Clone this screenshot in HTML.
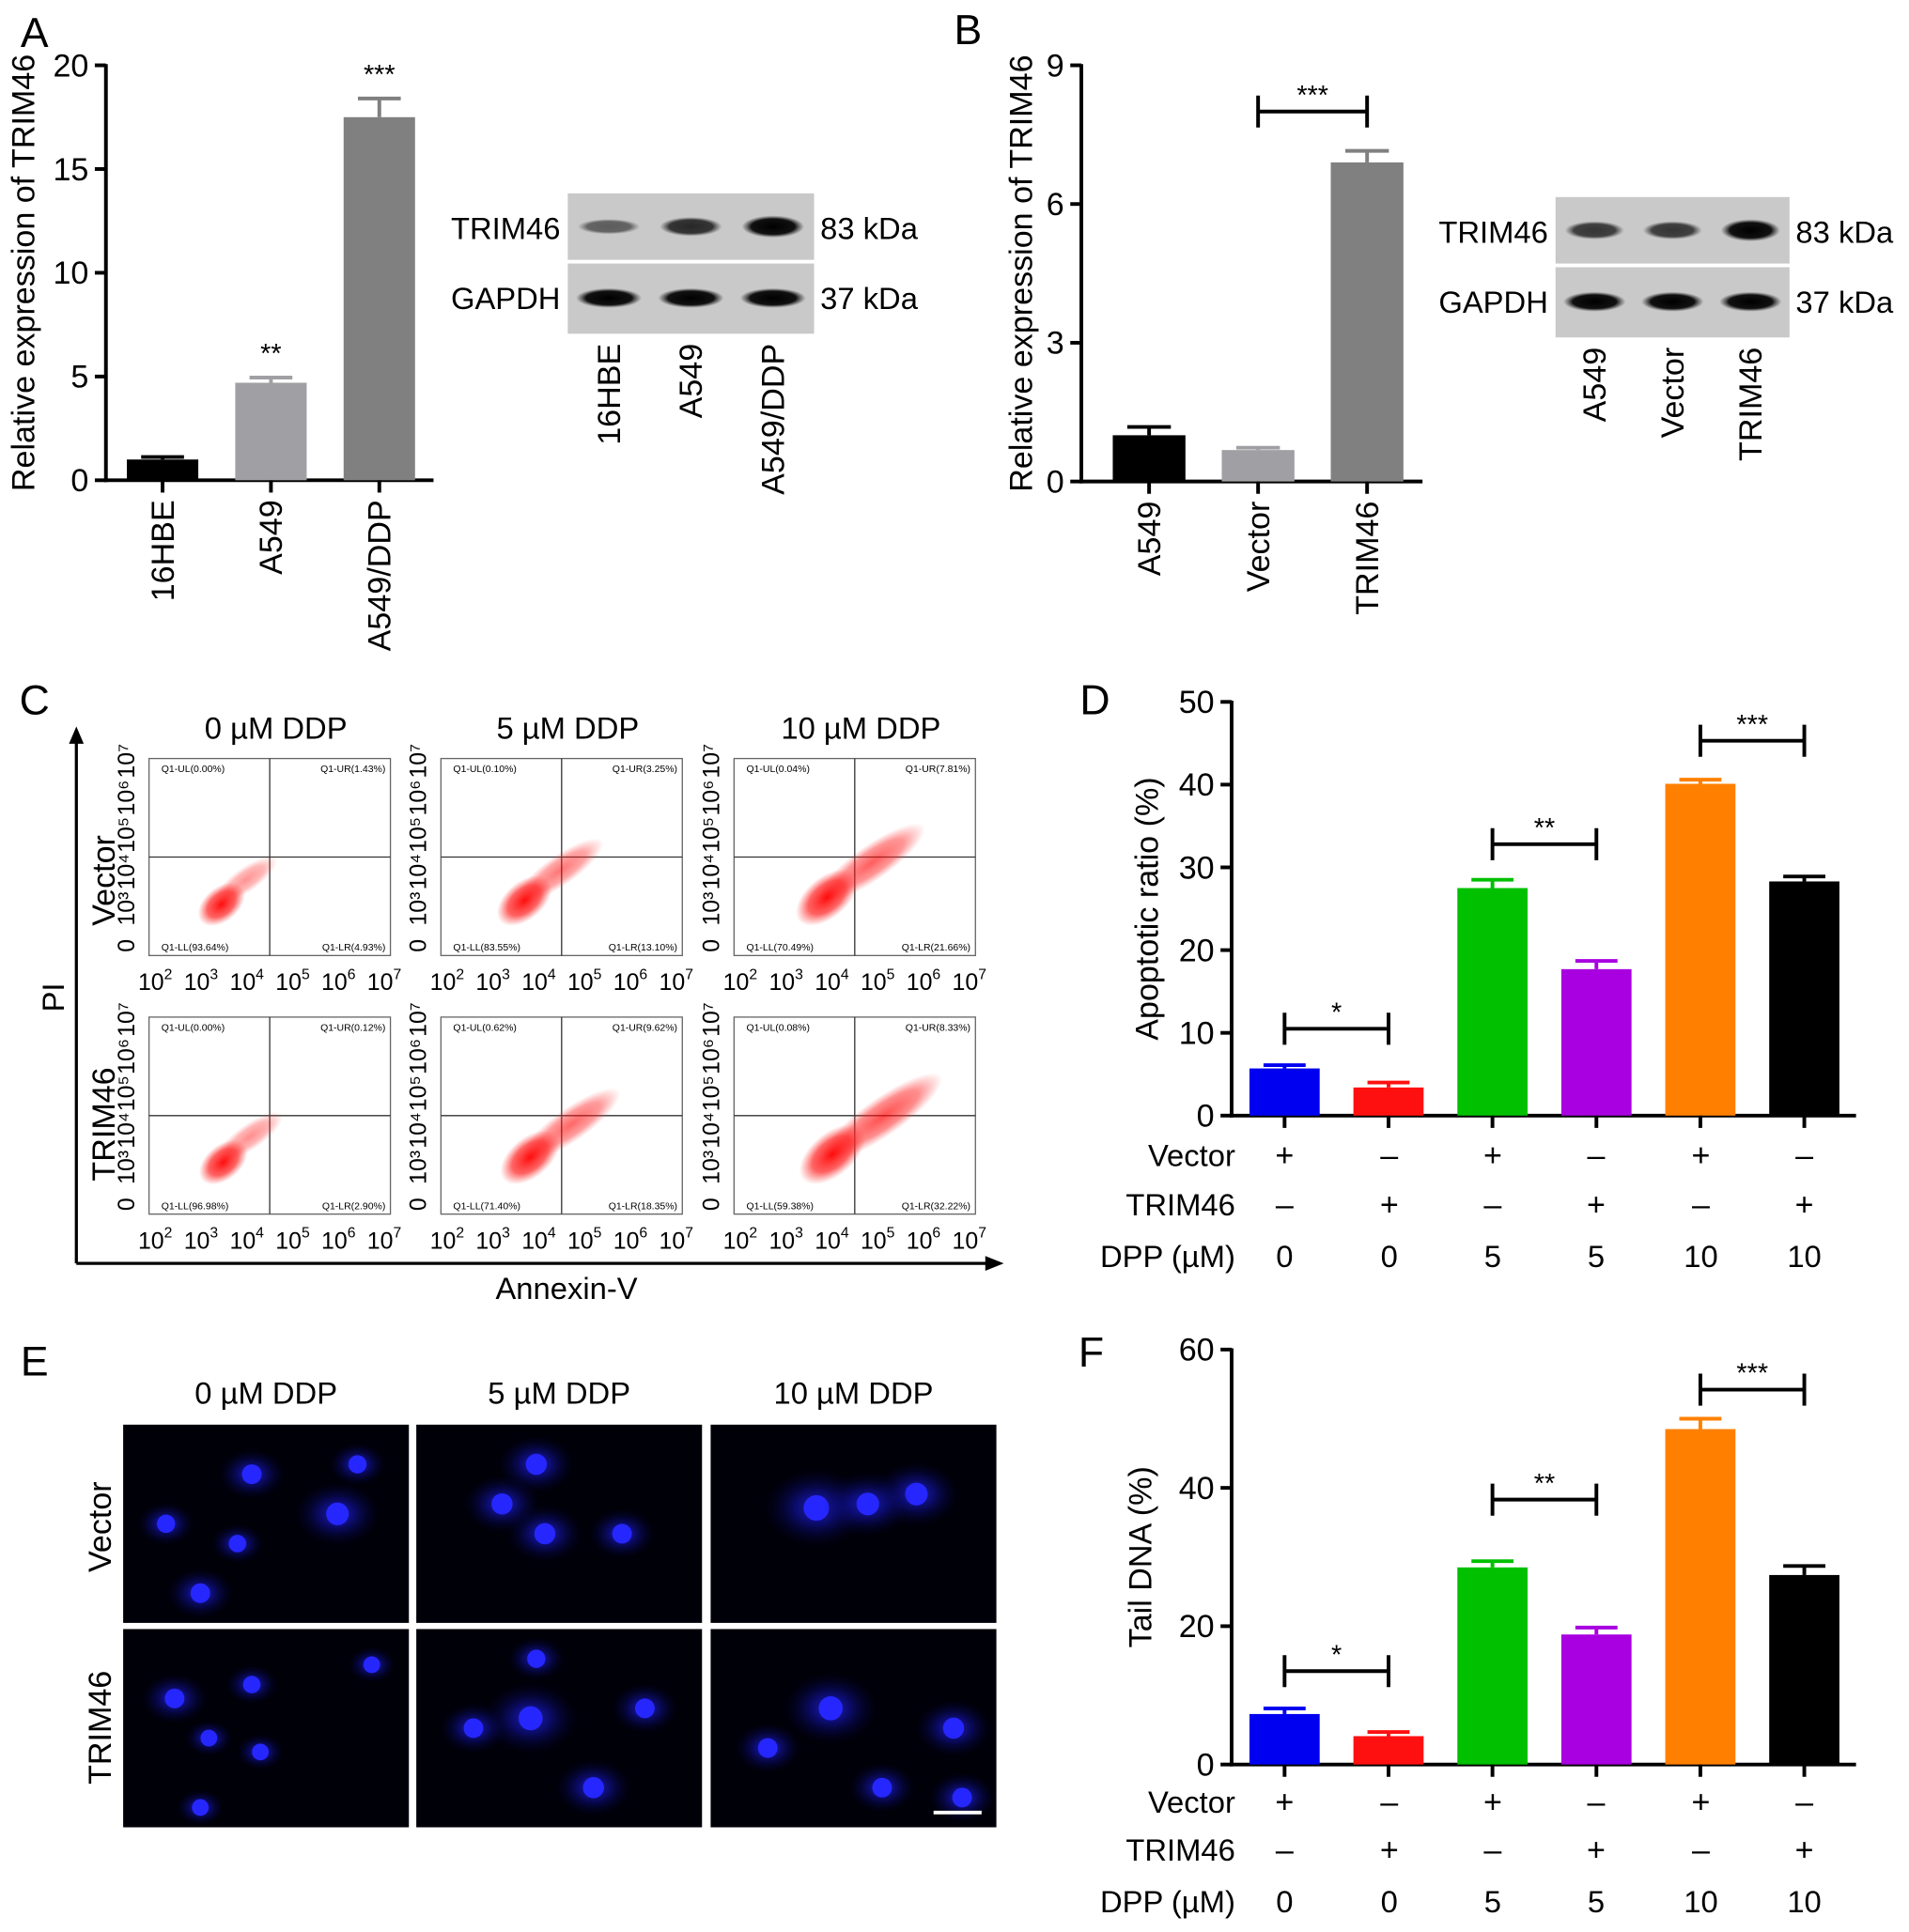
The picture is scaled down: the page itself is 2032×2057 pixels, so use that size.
<!DOCTYPE html>
<html><head><meta charset="utf-8"><style>
html,body{margin:0;padding:0;background:#fff}
svg{display:block}
text{font-family:"Liberation Sans",Arial,sans-serif;fill:#000}
</style></head><body>
<svg id="fig" width="2032" height="2057" viewBox="0 0 1550 1569" xmlns="http://www.w3.org/2000/svg">
<defs>
<radialGradient id="dot" cx="50%" cy="50%" r="50%"><stop offset="0" stop-color="#ff0000" stop-opacity="0.95"/><stop offset="0.6" stop-color="#ff2020" stop-opacity="0.7"/><stop offset="1" stop-color="#ff4040" stop-opacity="0"/></radialGradient>
<radialGradient id="nuc" cx="50%" cy="50%" r="50%"><stop offset="0" stop-color="#3a3aff"/><stop offset="0.35" stop-color="#1818d0"/><stop offset="1" stop-color="#000030" stop-opacity="0"/></radialGradient>
<radialGradient id="band" cx="50%" cy="50%" r="50%"><stop offset="0" stop-color="#000"/><stop offset="0.7" stop-color="#111"/><stop offset="1" stop-color="#333" stop-opacity="0"/></radialGradient>
</defs>
<g id="root"></g>
</svg>
<script>
// ---- Panel A data
const aCats = ["16HBE","A549","A549/DDP"];
const aVals = [1.0, 4.7, 17.5];
const aErrs = [0.12, 0.25, 0.9];
const aStars = ["", "**", "***"];
const aTicks = [0,5,10,15,20];
// ---- Panel B data
const bCats = ["A549","Vector","TRIM46"];
const bVals = [1.0, 0.68, 6.9];
const bErrs = [0.18, 0.05, 0.25];
const bTicks = [0,3,6,9];
// ---- Panel D data
const dVals = [5.7, 3.4, 27.5, 17.7, 40.1, 28.3];
const dErrs = [0.4, 0.6, 1.0, 1.0, 0.5, 0.6];
const dTicks = [0,10,20,30,40,50];
// ---- Panel F data
const fVals = [7.3, 4.1, 28.5, 18.8, 48.5, 27.4];
const fErrs = [0.8, 0.6, 0.9, 1.0, 1.5, 1.3];
const fTicks = [0,20,40,60];
// ---- shared
const vecRow = ["+","\u2013","+","\u2013","+","\u2013"];
const trimRow = ["\u2013","+","\u2013","+","\u2013","+"];
const dppRow = ["0","0","5","5","10","10"];
const barColors = ["#0000f0","#ff1010","#00c000","#a800e0","#ff8000","#000000"];
const flowLL = [["93.64%","83.55%","70.49%"],["96.98%","71.40%","59.38%"]];
const flowLR = [["4.93%","13.10%","21.66%"],["2.90%","18.35%","32.22%"]];
const flowUL = [["0.00%","0.10%","0.04%"],["0.00%","0.62%","0.08%"]];
const flowUR = [["1.43%","3.25%","7.81%"],["0.12%","9.62%","8.33%"]];

const NS="http://www.w3.org/2000/svg";
const root=document.getElementById('root');
function el(tag,attrs,parent,txt){const e=document.createElementNS(NS,tag);for(const k in attrs)e.setAttribute(k,attrs[k]);if(txt!==undefined)e.textContent=txt;(parent||root).appendChild(e);return e;}
function txt(x,y,s,size,opt,parent){opt=opt||{};const a={x:x,y:y,'font-size':size,'text-anchor':opt.anchor||'middle'};if(opt.rot)a.transform='rotate(-90 '+x+' '+y+')';if(opt.fill)a.style='fill:'+opt.fill;const t=el('text',a,parent,s);return t;}

function yScale(v,vmax,y0,y1){return y0-(v/vmax)*(y0-y1);}

function drawBars(name,cfg){
  const g=el('g',{});
  
  
  const vmax=cfg.ticks[cfg.ticks.length-1];
  const Y=v=>yScale(v,vmax,cfg.y0,cfg.y1);
  el('line',{x1:cfg.ax,y1:cfg.y1-1,x2:cfg.ax,y2:cfg.y0+1.5,stroke:'#000','stroke-width':3},g);
  el('line',{x1:cfg.ax-1.5,y1:cfg.y0,x2:cfg.xEnd,y2:cfg.y0,stroke:'#000','stroke-width':3},g);
  cfg.ticks.forEach(t=>{
    const y=Y(t);
    el('line',{x1:cfg.ax-9,y1:y,x2:cfg.ax,y2:y,stroke:'#000','stroke-width':3},g);
    const tt=txt(cfg.ax-14,y+9,String(t),26,{anchor:'end'},g);
    
    
  });
  cfg.vals.forEach((v,i)=>{
    const cx=cfg.x0+i*cfg.step;
    const w=cfg.bw;
    const r=el('rect',{x:cx-w/2,y:Y(v),width:w,height:cfg.y0-Y(v),fill:cfg.colors[i]},g);
    
    
    const et=Y(v+cfg.errs[i]);
    el('line',{x1:cx,y1:et,x2:cx,y2:Y(v),stroke:cfg.colors[i],'stroke-width':3},g);
    el('line',{x1:cx-w*0.3,y1:et,x2:cx+w*0.3,y2:et,stroke:cfg.colors[i],'stroke-width':3},g);
    el('line',{x1:cx,y1:cfg.y0,x2:cx,y2:cfg.y0+10,stroke:'#000','stroke-width':3},g);
    if(cfg.stars&&cfg.stars[i]){const s=txt(cx,et-12,cfg.stars[i],22,{},g);}
    if(cfg.cats){const c=txt(cx+9,cfg.y0+16,cfg.cats[i],26,{anchor:'end',rot:true},g);}
  });
  const yl=txt(cfg.ylx,(cfg.y0+cfg.y1)/2,cfg.ylabel,26,{rot:true},g);
  
  
  (cfg.brackets||[]).forEach(b=>{
    const x1=cfg.x0+b.i*cfg.step,x2=cfg.x0+b.j*cfg.step,y=Y(b.v);
    el('path',{d:`M${x1} ${y-13}V${y+13}M${x1} ${y}H${x2}M${x2} ${y-13}V${y+13}`,stroke:'#000','stroke-width':3,fill:'none'},g);
    const s=txt((x1+x2)/2,y-6,b.s,22,{},g);
    
    
  });
  return {g,Y};
}

[["A",28,38],["B",786,36],["C",28,580],["D",889,580],["E",28,1117],["F",886,1110]].forEach(p=>{
  const t=txt(p[1],p[2],p[0],34);
  
  
});

drawBars('panel-a-bar-chart',{ax:86,y0:390,y1:53,xEnd:352,x0:132,step:88,bw:58,vals:aVals,errs:aErrs,ticks:aTicks,colors:["#000","#a0a0a4","#808080"],stars:aStars,cats:aCats,ylabel:"Relative expression of TRIM46",ylx:28});
drawBars('panel-b-bar-chart',{ax:878,y0:391,y1:53,xEnd:1155,x0:933,step:88.5,bw:59,vals:bVals,errs:bErrs,ticks:bTicks,colors:["#000","#a0a0a4","#808080"],cats:bCats,ylabel:"Relative expression of TRIM46",ylx:838,brackets:[{i:1,j:2,v:8,s:"***"}]});

function blot(name,x,y,w,labelsL,kda,lanes,intens){
  const g=el('g',{});
  
  
  el('rect',{x:x,y:y,width:w,height:54,fill:'#c9c9c9'},g);
  el('rect',{x:x,y:y+57,width:w,height:57,fill:'#c9c9c9'},g);
  const lw=w/3;
  for(let i=0;i<3;i++){
    const cx=x+lw*(i+0.5);
    el('ellipse',{cx:cx,cy:y+27,rx:lw*0.38,ry:5+intens[i]*4,fill:'url(#band)',opacity:0.35+intens[i]*0.65},g);
    el('ellipse',{cx:cx,cy:y+85,rx:lw*0.4,ry:8,fill:'url(#band)'},g);
    const lt=txt(cx+9,y+122,lanes[i],26,{anchor:'end',rot:true},g);
    
    
  }
  txt(x-6,y+37,labelsL[0],25,{anchor:'end'},g);
  txt(x-6,y+94,labelsL[1],25,{anchor:'end'},g);
  txt(x+w+5,y+37,kda[0],25,{anchor:'start'},g);
  txt(x+w+5,y+94,kda[1],25,{anchor:'start'},g);
}
blot('western-blot-a',461,157,200,["TRIM46","GAPDH"],["83 kDa","37 kDa"],aCats,[0.3,0.7,1]);
blot('western-blot-b',1263,160,190,["TRIM46","GAPDH"],["83 kDa","37 kDa"],["A549","Vector","TRIM46"],[0.6,0.6,1]);

const fg=el('g',{});


const colX=[121,358,596], rowY=[616,826], pw=196, ph=160;
["0 \u00b5M DDP","5 \u00b5M DDP","10 \u00b5M DDP"].forEach((s,i)=>{const t=txt(colX[i]+pw/2+5,600,s,25,{},fg);});
const spread=[[0,0.3,0.55],[0.05,0.45,0.7]];
for(let r=0;r<2;r++)for(let c=0;c<3;c++){
  const x=colX[c],y=rowY[r];
  const p=el('g',{},fg);
  
  
  el('rect',{x:x,y:y,width:pw,height:ph,fill:'#fff',stroke:'#666','stroke-width':1},p);
  const qx=x+pw*0.5, qy=y+ph*0.5;
  el('line',{x1:qx,y1:y,x2:qx,y2:y+ph,stroke:'#333','stroke-width':1},p);
  el('line',{x1:x,y1:qy,x2:x+pw,y2:qy,stroke:'#333','stroke-width':1},p);
  const sp=spread[r][c];
  const cx=x+pw*0.3+sp*30, cy=y+ph*0.74-sp*10;
  el('ellipse',{cx:cx+20+sp*30,cy:cy-20-sp*15,rx:30+sp*40,ry:10+sp*8,transform:`rotate(-35 ${cx+20+sp*30} ${cy-20-sp*15})`,fill:'url(#dot)',opacity:0.45+sp*0.4},p);
  el('ellipse',{cx:cx,cy:cy,rx:22+sp*14,ry:14+sp*5,transform:`rotate(-40 ${cx} ${cy})`,fill:'url(#dot)'},p);
  txt(x+10,y+11,'Q1-UL('+flowUL[r][c]+')',8,{anchor:'start'},p);
  txt(x+pw-4,y+11,'Q1-UR('+flowUR[r][c]+')',8,{anchor:'end'},p);
  txt(x+10,y+ph-4,'Q1-LL('+flowLL[r][c]+')',8,{anchor:'start'},p);
  txt(x+pw-4,y+ph-4,'Q1-LR('+flowLR[r][c]+')',8,{anchor:'end'},p);
  for(let k=0;k<6;k++){
    const tx=x+5+k*(pw-10)/5;
    el('text',{x:tx,y:y+ph+28,'font-size':19,'text-anchor':'middle'},p,'10').innerHTML='10<tspan dy="-9" font-size="12">'+(k+2)+'</tspan>';
  }
  const yl=['0','10\u00b3','10\u2074','10\u2075','10\u2076','10\u2077'];
  for(let k=0;k<6;k++){
    const ty=y+ph-8-k*(ph-10)/5;
    txt(x-12,ty,yl[k],19,{rot:true},p);
  }
}
el('path',{d:'M62 1026V602',stroke:'#000','stroke-width':2.5,fill:'none'},fg);
el('path',{d:'M56 604L62 590L68 604Z',fill:'#000'},fg);
el('path',{d:'M62 1026H804',stroke:'#000','stroke-width':2.5,fill:'none'},fg);
el('path',{d:'M800 1020L815 1026L800 1032Z',fill:'#000'},fg);
const pil=txt(52,810,'PI',25,{rot:true},fg);
const anl=txt(460,1055,'Annexin-V',25,{},fg);
txt(93,715,'Vector',26,{rot:true},fg);
txt(93,913,'TRIM46',26,{rot:true},fg);

function table(name,y0,ys){
  const g=el('g',{});
  
  
  const xs=[1043,1128,1212,1296,1381,1465];
  txt(1003,ys[0],'Vector',25,{anchor:'end'},g);
  txt(1003,ys[1],'TRIM46',25,{anchor:'end'},g);
  txt(1003,ys[2],'DPP (\u00b5M)',25,{anchor:'end'},g);
  xs.forEach((x,i)=>{txt(x,ys[0],vecRow[i],26,{},g);txt(x,ys[1],trimRow[i],26,{},g);txt(x,ys[2],dppRow[i],25,{},g);});
}
drawBars('panel-d-bar-chart',{ax:1000,y0:906,y1:570,xEnd:1507,x0:1043,step:84.4,bw:57,vals:dVals,errs:dErrs,ticks:dTicks,colors:barColors,ylabel:"Apoptotic ratio (%)",ylx:940,brackets:[{i:0,j:1,v:10.5,s:"*"},{i:2,j:3,v:32.8,s:"**"},{i:4,j:5,v:45.3,s:"***"}]});
table('panel-d-condition-table',906,[947,987,1029]);
drawBars('panel-f-bar-chart',{ax:1000,y0:1433,y1:1096,xEnd:1507,x0:1043,step:84.4,bw:57,vals:fVals,errs:fErrs,ticks:fTicks,colors:barColors,ylabel:"Tail DNA (%)",ylx:935,brackets:[{i:0,j:1,v:13.5,s:"*"},{i:2,j:3,v:38.3,s:"**"},{i:4,j:5,v:54.2,s:"***"}]});
table('panel-f-condition-table',1433,[1472,1511,1553]);

const eg=el('g',{});


const ex=[100,338,577], ey=[1157,1323], ew=[232,232,232], eh=161;
["0 \u00b5M DDP","5 \u00b5M DDP","10 \u00b5M DDP"].forEach((s,i)=>{const t=txt(ex[i]+ew[i]/2,1140,s,25,{},eg);});
txt(90,1240,'Vector',26,{rot:true},eg);
txt(90,1403,'TRIM46',26,{rot:true},eg);
const blobs=[
 [[0.45,0.25,0.5],[0.75,0.45,0.7],[0.15,0.5,0.4],[0.27,0.85,0.5],[0.82,0.2,0.4],[0.4,0.6,0.35]],
 [[0.42,0.2,0.6],[0.45,0.55,0.6],[0.72,0.55,0.5],[0.3,0.4,0.6]],
 [[0.37,0.42,0.9],[0.72,0.35,0.7],[0.55,0.4,0.7]],
 [[0.18,0.35,0.5],[0.45,0.28,0.35],[0.87,0.18,0.3],[0.48,0.62,0.3],[0.3,0.55,0.3],[0.27,0.9,0.3]],
 [[0.4,0.45,0.8],[0.62,0.8,0.6],[0.8,0.4,0.5],[0.2,0.5,0.5],[0.42,0.15,0.4]],
 [[0.42,0.4,0.8],[0.85,0.5,0.6],[0.88,0.85,0.5],[0.6,0.8,0.5],[0.2,0.6,0.5]]
];
for(let r=0;r<2;r++)for(let c=0;c<3;c++){
  const x=ex[c],y=ey[r];
  const im=el('rect',{x:x,y:y,width:ew[c],height:eh,fill:'#000008'},eg);
  
  
  blobs[r*3+c].forEach(b=>{
    el('ellipse',{cx:x+b[0]*ew[c],cy:y+b[1]*eh,rx:40*b[2]+8,ry:30*b[2]+6,fill:'url(#nuc)',opacity:0.55},eg);
    el('circle',{cx:x+b[0]*ew[c],cy:y+b[1]*eh,r:5+6*b[2],fill:'#2626ff'},eg);
  });
}
el('line',{x1:758,y1:1472,x2:797,y2:1472,stroke:'#fff','stroke-width':3},eg);
</script>
</body></html>
